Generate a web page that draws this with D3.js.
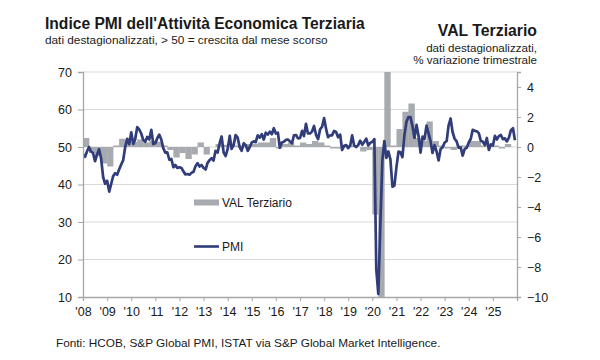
<!DOCTYPE html>
<html>
<head>
<meta charset="utf-8">
<script src="https://cdn.jsdelivr.net/npm/d3@7"></script>
<style>
  html, body { margin: 0; padding: 0; background: #fff; }
  svg { display: block; font-family: "Liberation Sans", Arial, sans-serif; }
</style>
</head>
<body>
<svg id="chart" width="600" height="360"></svg>
<script>
// ---------------- DATA ----------------
const pmiStart = [2008, 0]; // Jan 2008, monthly
const pmiValues = [
  // 2008
  48.0, 47.4, 48.8, 50.0, 48.8, 48.4, 46.2, 48.0, 49.4, 47.0, 42.0, 40.2,
  // 2009
  41.0, 38.1, 40.0, 42.2, 43.0, 42.6, 44.0, 45.3, 46.5, 50.0, 52.2, 50.8,
  // 2010
  53.9, 50.8, 52.0, 55.3, 54.7, 53.6, 51.9, 51.4, 52.7, 52.0, 54.6, 50.8,
  // 2011
  51.0, 52.4, 53.3, 52.0, 49.7, 48.5, 48.6, 46.6, 46.8, 44.6, 45.2, 44.4,
  // 2012
  44.6, 44.4, 43.5, 42.7, 42.8, 42.6, 43.1, 43.4, 44.9, 45.7, 44.8, 45.2,
  // 2013
  44.4, 44.0, 45.7, 46.5, 47.0, 46.4, 49.0, 48.5, 51.0, 52.8, 48.5, 47.6,
  // 2014
  49.5, 53.0, 49.5, 50.5, 53.2, 52.5, 50.0, 49.0, 51.0, 50.5, 49.0, 50.0,
  // 2015
  51.2, 51.5, 51.3, 53.1, 52.5, 53.4, 52.0, 53.8, 53.3, 54.1, 53.4, 55.0,
  // 2016
  53.6, 53.8, 49.8, 51.2, 51.4, 51.9, 52.0, 51.5, 51.0, 53.1, 53.2, 52.3,
  // 2017
  52.4, 54.3, 52.9, 56.2, 53.6, 53.6, 54.1, 55.6, 53.2, 52.1, 54.7, 55.4,
  // 2018
  57.7, 54.7, 52.6, 53.1, 53.1, 54.3, 54.0, 52.6, 53.3, 49.2, 50.3, 50.5,
  // 2019
  49.7, 50.4, 53.1, 50.4, 50.0, 50.5, 51.7, 50.6, 51.4, 52.2, 50.4, 51.1,
  // 2020
  51.4, 52.1, 17.4, 10.8, 28.9, 46.4, 51.6, 47.1, 48.8, 46.7, 39.4, 39.7,
  // 2021
  44.7, 48.8, 48.6, 47.3, 53.1, 56.7, 58.0, 58.0, 55.5, 52.4, 55.9, 53.0,
  // 2022
  48.5, 52.8, 52.1, 55.7, 53.7, 51.6, 48.4, 50.5, 48.8, 46.4, 49.5, 49.9,
  // 2023
  51.2, 51.6, 55.7, 57.6, 54.0, 52.2, 51.5, 49.8, 49.9, 47.7, 49.5, 49.8,
  // 2024
  51.2, 52.2, 54.6, 54.3, 54.2, 53.7, 51.7, 51.4, 50.5, 52.4, 49.2, 50.7,
  // 2025
  50.4, 53.0, 52.0, 52.9, 53.2, 52.1, 52.3, 51.5, 52.5, 54.5, 55.0, 51.8
];

const valStart = [2008, 0]; // Q1 2008, quarterly
const valValues = [
  0.6, -0.4, -0.6, -1.1,    // 2008
  -1.3, 0.1, 0.55, 0.5,     // 2009
  0.35, 0.5, 0.3, 0.4,      // 2010
  0.35, 0.1, -0.2, -0.7,    // 2011
  -0.4, -0.8, -0.5, 0.3,    // 2012
  -0.5, 0.0, 0.2, 0.15,     // 2013
  0.0, 0.1, 0.1, 0.2,       // 2014
  0.2, 0.3, 0.3, 0.6,       // 2015
  -0.1, 0.2, 0.3, 0.1,      // 2016
  0.3, 0.2, 0.4, 0.3,       // 2017
  0.1, -0.1, -0.1, 0.1,     // 2018
  0.1, 0.0, -0.3, -0.2,     // 2019
  -4.5, -12.5, 14.0, 0.1,   // 2020
  1.2, 2.35, 2.9, 0.6,      // 2021
  0.4, 1.7, 0.4, 0.1,       // 2022
  -0.1, -0.2, 0.1, 0.1,     // 2023
  0.4, 0.4, 0.1, 0.0,       // 2024
  0.1, -0.1, 0.2            // 2025
];

const yearTicks = d3.range(2008, 2027);
const yearLabels = ["'08","'09","'10","'11","'12","'13","'14","'15","'16","'17","'18","'19","'20","'21","'22","'23","'24","'25"];
const leftTicks = [10, 20, 30, 40, 50, 60, 70];
const rightTicks = [-10, -8, -6, -4, -2, 0, 2, 4];

const titleText = "Indice PMI dell'Attività Economica Terziaria";
const subtitleText = "dati destagionalizzati, > 50 = crescita dal mese scorso";
const rightTitle = "VAL Terziario";
const rightSub = ["dati destagionalizzati,", "% variazione trimestrale"];
const legendLabels = ["VAL Terziario", "PMI"];
const sourceText = "Fonti: HCOB, S&P Global PMI, ISTAT via S&P Global Market Intelligence.";

// ---------------- LAYOUT ----------------
const svg = d3.select("#chart");
const L = 83, R = 517, T = 72, B = 297;
const barColor = "#a7aaae", lineColor = "#303d7a", gridColor = "#d9d9d9", axisColor = "#a6a6a6";

const x = d3.scaleTime().domain([new Date(2008, 0, 1), new Date(2026, 0, 1)]).range([L, R]);
const yL = d3.scaleLinear().domain([10, 70]).range([B, T]);
const yR = d3.scaleLinear().domain([-10, 5]).range([B, T]);

// Titles
svg.append("text").attr("x", 45).attr("y", 28.5).attr("font-size", 15.6).attr("font-weight", "bold")
  .attr("fill", "#1a1a1a").text(titleText);
svg.append("text").attr("x", 45).attr("y", 43.5).attr("font-size", 11.8).attr("fill", "#1a1a1a").text(subtitleText);
svg.append("text").attr("x", 537).attr("y", 36).attr("text-anchor", "end").attr("font-size", 15.8)
  .attr("font-weight", "bold").attr("fill", "#1a1a1a").text(rightTitle);
rightSub.forEach((t, i) => {
  svg.append("text").attr("x", 537).attr("y", 52 + i * 12).attr("text-anchor", "end")
    .attr("font-size", 11.6).attr("fill", "#1a1a1a").text(t);
});

// Gridlines
svg.append("g").selectAll("line").data(leftTicks.filter(d => d > 10)).join("line")
  .attr("x1", L).attr("x2", R).attr("y1", d => yL(d)).attr("y2", d => yL(d))
  .attr("stroke", gridColor).attr("stroke-width", 1);

// Clip
svg.append("clipPath").attr("id", "plotclip").append("rect")
  .attr("x", L).attr("y", T).attr("width", R - L).attr("height", B - T);

const plot = svg.append("g").attr("clip-path", "url(#plotclip)");

// Bars
const qDate = i => new Date(valStart[0], valStart[1] + 3 * i, 1);
plot.append("g").selectAll("rect").data(valValues).join("rect")
  .attr("x", (d, i) => x(qDate(i)))
  .attr("width", (d, i) => x(qDate(i + 1)) - x(qDate(i)) + 0.3)
  .attr("y", d => yR(Math.min(5.5, Math.max(d, 0))))
  .attr("height", d => Math.abs(yR(Math.max(-10.5, Math.min(5.5, d))) - yR(0)))
  .attr("fill", barColor);

// Line
const mDate = i => new Date(pmiStart[0], pmiStart[1] + i, 1);
const line = d3.line().x((d, i) => x(mDate(i))).y(d => yL(d)).curve(d3.curveLinear);
plot.append("path").datum(pmiValues).attr("d", line)
  .attr("fill", "none").attr("stroke", lineColor).attr("stroke-width", 2.7)
  .attr("stroke-linejoin", "round");

// Left axis
const axL = d3.axisLeft(yL).tickValues(leftTicks).tickSize(5).tickPadding(6).tickFormat(d3.format("d"));
const gL = svg.append("g").attr("transform", `translate(${L},0)`).call(axL);
gL.select(".domain").attr("stroke", axisColor).attr("stroke-width", 1.3);
gL.selectAll(".tick line").attr("stroke", axisColor);
gL.selectAll(".tick text").attr("font-size", 12.5).attr("fill", "#1a1a1a")
  .attr("font-family", "Liberation Sans, Arial, sans-serif");

// Right axis
const axR = d3.axisRight(yR).tickValues(rightTicks).tickSize(4).tickPadding(6).tickFormat(d3.format("d"));
const gR = svg.append("g").attr("transform", `translate(${R},0)`).call(axR);
gR.select(".domain").attr("stroke", axisColor).attr("stroke-width", 1.3);
gR.selectAll(".tick line").attr("stroke", axisColor);
gR.selectAll(".tick text").attr("font-size", 12.5).attr("fill", "#1a1a1a")
  .attr("font-family", "Liberation Sans, Arial, sans-serif");

// Bottom axis
const axB = d3.axisBottom(x).tickValues(yearTicks.map(y => new Date(y, 0, 1))).tickSize(4).tickPadding(6)
  .tickFormat((d, i) => yearLabels[i] || "");
const gB = svg.append("g").attr("transform", `translate(0,${B})`).call(axB);
gB.select(".domain").attr("stroke", axisColor).attr("stroke-width", 1.3);
gB.selectAll(".tick line").attr("stroke", axisColor);
gB.selectAll(".tick text").attr("font-size", 12.5).attr("fill", "#1a1a1a")
  .attr("font-family", "Liberation Sans, Arial, sans-serif");

// Legend
const lg = svg.append("g");
lg.append("rect").attr("x", 194).attr("y", 199.5).attr("width", 25).attr("height", 6).attr("fill", barColor);
lg.append("text").attr("x", 222).attr("y", 207).attr("font-size", 12).attr("fill", "#1a1a1a").text(legendLabels[0]);
lg.append("line").attr("x1", 194).attr("x2", 219).attr("y1", 246.5).attr("y2", 246.5)
  .attr("stroke", lineColor).attr("stroke-width", 2.6);
lg.append("text").attr("x", 222).attr("y", 251).attr("font-size", 12).attr("fill", "#1a1a1a").text(legendLabels[1]);

// Source
svg.append("text").attr("x", 56).attr("y", 347).attr("font-size", 11.8).attr("fill", "#1a1a1a").text(sourceText);
</script>
</body>
</html>
